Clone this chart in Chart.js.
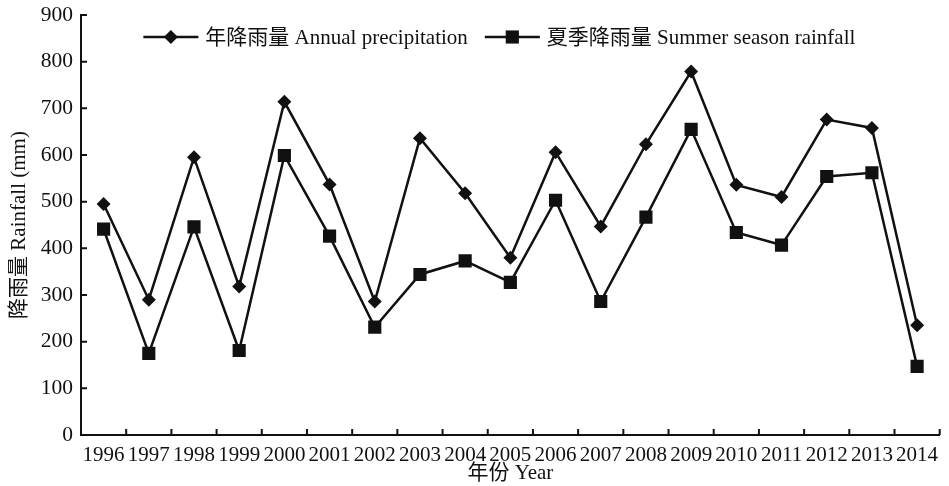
<!DOCTYPE html>
<html>
<head>
<meta charset="utf-8">
<script src="https://cdn.jsdelivr.net/npm/chart.js@4.4.1/dist/chart.umd.min.js"></script>
<style>
  html, body { margin: 0; padding: 0; background: #fff; }
  #wrap { width: 949px; height: 486px; position: relative; }
</style>
</head>
<body>
<div id="wrap"><canvas id="rain-chart"></canvas></div>
<script>
const years = ['1996', '1997', '1998', '1999', '2000', '2001', '2002', '2003', '2004', '2005',
               '2006', '2007', '2008', '2009', '2010', '2011', '2012', '2013', '2014'];
const annualRain = [495, 290, 595, 318, 714, 537, 286, 636, 518, 380,
                    606, 447, 623, 779, 536, 510, 676, 658, 235];
const summerRain = [441, 175, 446, 181, 599, 426, 231, 344, 373, 327,
                    503, 286, 467, 655, 434, 407, 554, 562, 147];
const yTicks = [0, 100, 200, 300, 400, 500, 600, 700, 800, 900];

const FONT = '"Liberation Serif", "Times New Roman", "Noto Sans CJK SC", serif';
const INK = '#111';

// short tick marks pointing into the plot area
const innerTicks = {
    id: 'innerTicks',
    afterDraw(chart) {
        const { ctx, scales: { x, y } } = chart;
        ctx.save();
        ctx.strokeStyle = INK;
        ctx.lineWidth = 2;
        ctx.beginPath();
        for (let i = 0; i < years.length; i++) {
            const px = (x.getPixelForValue(i) + x.getPixelForValue(i + 1)) / 2;
            ctx.moveTo(px, x.top);
            ctx.lineTo(px, x.top - 6);
        }
        yTicks.forEach((v) => {
            const py = y.getPixelForValue(v);
            ctx.moveTo(y.right, py);
            ctx.lineTo(y.right + 6, py);
        });
        ctx.stroke();
        ctx.restore();
    }
};

// legend laid out as line + marker + label, near the top of the plot
const lineLegend = {
    id: 'lineLegend',
    afterDraw(chart) {
        const { ctx, chartArea } = chart;
        ctx.save();
        ctx.font = '21px ' + FONT;
        ctx.textBaseline = 'middle';
        const items = chart.data.datasets.map((ds) => ({ ds, w: ctx.measureText(ds.label).width }));
        const sym = 55, gapText = 7, gapItem = 17;
        const total = items.reduce((s, it) => s + sym + gapText + it.w, 0) + gapItem * (items.length - 1);
        let cx = (chartArea.left + chartArea.right) / 2 - 11 - total / 2;
        const cy = chartArea.top + 22;
        items.forEach(({ ds, w }) => {
            ctx.strokeStyle = INK;
            ctx.lineWidth = ds.borderWidth;
            ctx.beginPath();
            ctx.moveTo(cx, cy);
            ctx.lineTo(cx + sym, cy);
            ctx.stroke();
            ctx.fillStyle = INK;
            Chart.helpers.drawPoint(ctx, {
                pointStyle: ds.pointStyle,
                radius: ds.pointRadius,
                borderWidth: 0
            }, cx + sym / 2, cy);
            ctx.fillStyle = INK;
            ctx.fillText(ds.label, cx + sym + gapText, cy + 1);
            cx += sym + gapText + w + gapItem;
        });
        ctx.restore();
    }
};

new Chart(document.getElementById('rain-chart'), {
    type: 'line',
    data: {
        labels: years,
        datasets: [
            {
                label: '年降雨量 Annual precipitation',
                data: annualRain,
                borderColor: INK,
                backgroundColor: INK,
                borderWidth: 2.5,
                pointStyle: 'rectRot',
                pointRadius: 7,
                pointBorderWidth: 0,
                tension: 0
            },
            {
                label: '夏季降雨量 Summer season rainfall',
                data: summerRain,
                borderColor: INK,
                backgroundColor: INK,
                borderWidth: 2.5,
                pointStyle: 'rect',
                pointRadius: 9.3,
                pointBorderWidth: 0,
                tension: 0
            }
        ]
    },
    options: {
        responsive: true,
        maintainAspectRatio: false,
        animation: false,
        layout: { padding: { top: 15, right: 2, left: 0, bottom: 0 } },
        plugins: {
            legend: { display: false },
            tooltip: { enabled: false }
        },
        scales: {
            x: {
                offset: true,
                grid: { display: false, offset: true },
                border: { display: true, color: INK, width: 2 },
                ticks: {
                    color: INK,
                    font: { family: FONT, size: 21 },
                    maxRotation: 0,
                    autoSkip: false,
                    padding: 0
                },
                title: {
                    display: true,
                    text: '年份 Year',
                    color: INK,
                    font: { family: FONT, size: 21 },
                    padding: { top: 0, bottom: 0 }
                },
                afterFit(scale) { scale.height = 51; }
            },
            y: {
                min: 0,
                max: 900,
                afterBuildTicks(scale) { scale.ticks = yTicks.map((v) => ({ value: v })); },
                grid: { display: false },
                border: { display: true, color: INK, width: 2 },
                ticks: {
                    color: INK,
                    font: { family: FONT, size: 21.5 },
                    padding: 0
                },
                title: {
                    display: true,
                    text: '降雨量 Rainfall (mm)',
                    color: INK,
                    font: { family: FONT, size: 21 },
                    padding: { top: 7, bottom: 4 }
                },
                afterFit(scale) { scale.width = 81; }
            }
        }
    },
    plugins: [innerTicks, lineLegend]
});
</script>
</body>
</html>
